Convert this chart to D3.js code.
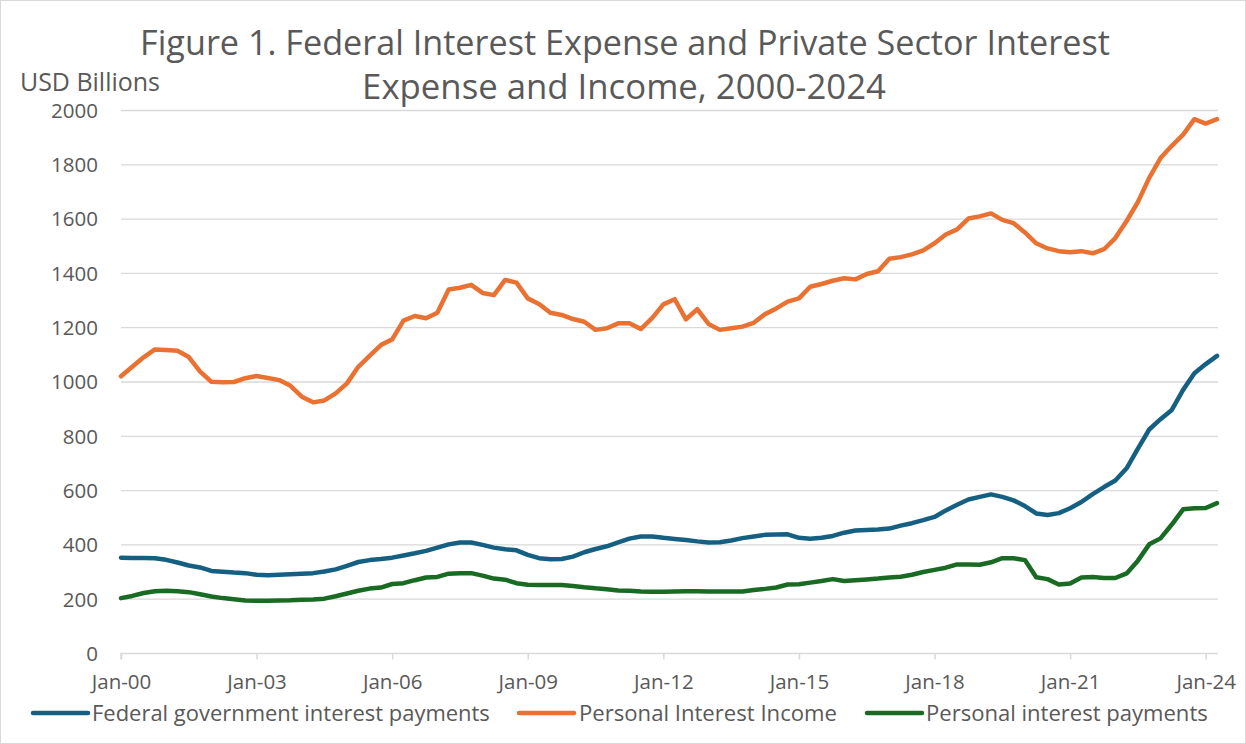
<!DOCTYPE html>
<html><head><meta charset="utf-8">
<script src="https://cdn.jsdelivr.net/npm/d3@7"></script>
<style>html,body{margin:0;padding:0;background:#fff}svg{display:block}text{font-family:"Open Sans","Noto Sans",sans-serif;fill:#595959}</style>
</head><body><svg id="c" width="1246" height="744"></svg>
<script>
// Quarterly, 2000Q1 .. 2024Q2 (98 points)
const startYear = 2000;
const tickLabels = ["Jan-00","Jan-03","Jan-06","Jan-09","Jan-12","Jan-15","Jan-18","Jan-21","Jan-24"];
const yTicks = [0,200,400,600,800,1000,1200,1400,1600,1800,2000];
const seriesNames = ["Federal government interest payments","Personal Interest Income","Personal interest payments"];
const federal = [353,352,352,351,345,335,324,317,304,301,298,296,290,288,290,292,294,296,302,310,
  323,337,344,348,353,361,369,378,390,402,409,409,400,390,384,380,363,351,347,348,
  357,373,385,395,409,423,431,431,426,422,418,413,409,410,416,425,431,437,438,439,
  426,423,426,433,445,453,455,457,460,471,480,491,503,527,548,567,577,586,577,564,
  543,516,510,517,535,558,587,613,637,682,755,825,863,897,971,1032,1066,1096];
const income = [1021,1056,1091,1120,1118,1115,1092,1038,1001,999,1000,1014,1022,1015,1007,986,946,925,932,958,
  995,1056,1096,1136,1157,1226,1243,1235,1255,1341,1347,1358,1328,1320,1376,1366,1308,1287,1255,1247,
  1232,1222,1192,1198,1216,1216,1195,1235,1286,1305,1231,1268,1214,1192,1198,1204,1218,1250,1271,1296,
  1308,1351,1361,1373,1382,1378,1398,1408,1454,1460,1470,1485,1511,1543,1562,1602,1610,1621,1597,1585,
  1551,1511,1492,1482,1478,1482,1474,1489,1530,1593,1663,1752,1825,1870,1911,1968,1952,1968];
const payments = [204,212,223,229,231,229,226,218,210,204,200,195,194,194,195,196,198,199,202,211,
  221,231,239,243,256,259,270,280,282,294,296,296,287,276,272,259,253,252,252,252,
  249,244,240,237,232,231,228,227,227,228,229,229,228,228,228,228,234,238,243,254,
  255,261,267,274,267,270,273,276,280,283,290,300,308,316,328,328,327,336,351,351,
  344,281,274,254,258,280,282,278,278,295,342,402,424,475,531,535,536,554];
const colors = ["#156082","#E97132","#196B24"];

const svg = d3.select("#c");
svg.append("rect").attr("x",0.5).attr("y",0.5).attr("width",1245).attr("height",743)
  .attr("fill","#fff").attr("stroke","#D9D9D9").attr("stroke-width",1);

const n = federal.length;
const x = d3.scaleLinear().domain([0, n-1]).range([121, 1217]);
const y = d3.scaleLinear().domain([0, 2000]).range([653.5, 110.5]);

// gridlines
svg.append("g").selectAll("line").data(yTicks.filter(d=>d>0)).join("line")
  .attr("x1",121).attr("x2",1218).attr("y1",d=>y(d)).attr("y2",d=>y(d))
  .attr("stroke","#D9D9D9").attr("stroke-width",1.3);

// y labels
svg.append("g").selectAll("text").data(yTicks).join("text")
  .attr("x",98).attr("y",d=>y(d)).attr("text-anchor","end").attr("dy","0.36em")
  .style("font-size","20.5px").text(d=>d);

// x axis
const tickIdx = tickLabels.map((_,k)=>k*12);
const xAxis = d3.axisBottom(x).tickValues(tickIdx).tickFormat((d,k)=>tickLabels[k]).tickSize(6).tickPadding(15);
const gx = svg.append("g").attr("transform",`translate(0,${y(0)})`).call(xAxis);
gx.select(".domain").attr("stroke","#D9D9D9").attr("stroke-width",1.5).attr("d",`M121,6V0H1218`);
gx.selectAll(".tick line").attr("stroke","#D9D9D9").attr("stroke-width",1.5);
gx.selectAll(".tick text").style("font-size","20.5px").style("font-family",'"Open Sans","Noto Sans",sans-serif').attr("fill","#595959");

// lines
const line = d3.line().x((d,i)=>x(i)).y(d=>y(d));
[federal, income, payments].forEach((s,k)=>{
  svg.append("path").datum(s).attr("d",line).attr("fill","none")
    .attr("stroke",colors[k]).attr("stroke-width",4.5).attr("stroke-linejoin","round").attr("stroke-linecap","round");
});

// title
function fitText(sel, w){ const L = sel.node().getComputedTextLength(); const fs = parseFloat(sel.style("font-size")); sel.style("font-size",(fs*w/L)+"px"); }
const t1 = svg.append("text").attr("x",625).attr("y",55).attr("text-anchor","middle").style("font-size","28px")
  .text("Figure 1. Federal Interest Expense and Private Sector Interest");
fitText(t1, 970);
const t2 = svg.append("text").attr("x",624).attr("y",99).attr("text-anchor","middle").style("font-size","28px")
  .text("Expense and Income, 2000-2024");
fitText(t2, 524);
const ya = svg.append("text").attr("x",20).attr("y",91).style("font-size","19px").text("USD Billions");
fitText(ya, 140);

// legend
const legX = [[33,88,92,398],[519,574,579,258],[867,922,926,282]];
seriesNames.forEach((nm,k)=>{
  const [a,b,tx,w] = legX[k];
  svg.append("line").attr("x1",a).attr("x2",b).attr("y1",713).attr("y2",713)
    .attr("stroke",colors[k]).attr("stroke-width",4.5).attr("stroke-linecap","round");
  const t = svg.append("text").attr("x",tx).attr("y",713).attr("dy","0.35em").style("font-size","19px").text(nm);
  fitText(t, w);
});
</script></body></html>
